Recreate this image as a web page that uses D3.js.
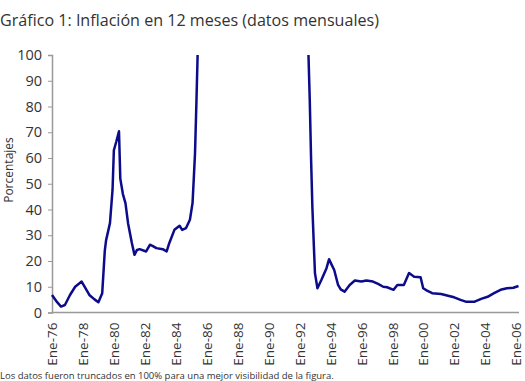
<!DOCTYPE html>
<html><head><meta charset="utf-8">
<script src="https://cdn.jsdelivr.net/npm/d3@7"></script>
<style>body{margin:0;background:#fff;overflow:hidden}svg{display:block}</style>
</head><body>
<svg id="c" width="525" height="381"></svg>
<script>
const title = "Gráfico 1: Inflación en 12 meses (datos mensuales)";
const yLabel = "Porcentajes";
const footnote = "Los datos fueron truncados en 100% para una mejor visibilidad de la figura.";
const yTicks = [0,10,20,30,40,50,60,70,80,90,100];
const xTickYears = [1976,1978,1980,1982,1984,1986,1988,1990,1992,1994,1996,1998,2000,2002,2004,2006];
// months (YYYY-MM) and 12-month inflation (%); null = out of range (above 100)
const months = ["1976-01","1976-05","1976-08","1976-11","1977-03","1977-07","1977-12","1978-06","1978-10","1979-01","1979-04","1979-06","1979-07","1979-10","1979-12","1980-01","1980-03","1980-05","1980-06","1980-08","1980-10","1980-12","1981-03","1981-05","1981-07","1981-09","1982-02","1982-05","1982-07","1982-10","1983-03","1983-06","1983-08","1983-12","1984-04","1984-06","1984-09","1984-12","1985-02","1985-03","1985-04","1985-05","1985-06","1985-07","1992-07","1992-08","1992-09","1992-10","1992-11","1992-12","1993-01","1993-03","1993-06","1993-10","1993-12","1994-02","1994-04","1994-07","1994-09","1994-12","1995-04","1995-08","1996-01","1996-05","1996-10","1997-02","1997-06","1997-09","1998-02","1998-05","1998-10","1999-02","1999-06","1999-11","2000-01","2000-04","2000-08","2001-03","2001-09","2002-01","2002-06","2002-10","2003-05","2003-10","2004-03","2004-08","2005-01","2005-06","2005-11","2006-03"];
const inflation = [6.8,4.0,2.3,2.9,6.8,10.0,12.0,6.8,5.1,4.0,7.5,24.0,28.0,34.7,47.7,63.0,66.5,70.4,52.0,46.0,42.5,34.7,27.0,22.4,24.3,24.6,23.7,26.3,25.9,25.0,24.6,23.7,26.9,32.1,33.7,32.1,32.8,36.0,42.5,51.6,62.0,80.0,100,null,null,100,82.0,60.0,41.0,28.0,15.3,9.4,12.6,17.2,20.7,18.5,16.5,10.7,9.0,8.1,10.7,12.4,12.0,12.4,12.0,11.1,10.0,9.8,8.8,10.7,10.7,15.3,13.9,13.7,9.4,8.5,7.5,7.2,6.4,5.9,4.9,4.2,4.2,5.3,6.1,7.5,8.8,9.4,9.6,10.3];

const parse = d3.timeParse("%Y-%m");
const data = months.map((m,i)=>({date:parse(m), v:inflation[i]}));

const svg = d3.select("#c");
const L = 52, R = 516, T = 55, B = 312.5;
const x = d3.scaleTime().domain([new Date(1976,0,1), new Date(2006,0,1)]).range([L, R]);
const y = d3.scaleLinear().domain([0,100]).range([B, T]);
const font = "'Open Sans', sans-serif";

svg.append("text").attr("x",0).attr("y",26).attr("font-family",font).attr("font-size",16.1)
  .attr("fill","#333").text(title);

// y axis
const ya = svg.append("g").attr("transform",`translate(${L},0)`)
  .call(d3.axisLeft(y).tickValues(yTicks).tickSize(4).tickPadding(6));
ya.select(".domain").attr("stroke","#999").attr("stroke-width",1.5);
ya.selectAll(".tick line").attr("stroke","#999");
ya.selectAll(".tick text").attr("font-family",font).attr("font-size",14.5).attr("fill","#333");

svg.append("text").attr("transform",`translate(13,170) rotate(-90)`).attr("text-anchor","middle")
  .attr("font-family",font).attr("font-size",12).attr("fill","#333").text(yLabel);

// x axis
const xa = svg.append("g").attr("transform",`translate(0,${B})`)
  .call(d3.axisBottom(x).tickValues(xTickYears.map(yy=>new Date(yy,0,1))).tickSize(0).tickPadding(0)
    .tickFormat(d=>"Ene-"+d3.timeFormat("%y")(d)));
xa.select(".domain").attr("stroke","#999").attr("stroke-width",1.5).attr("d",`M${L},0H519`);
xa.selectAll(".tick text").attr("font-family",font).attr("font-size",13.5).attr("fill","#333")
  .attr("text-anchor","end").attr("transform","rotate(-90)").attr("x",-10).attr("y",0).attr("dy","0.35em");

// line
svg.append("path").datum(data)
  .attr("fill","none").attr("stroke","#0c0c8a").attr("stroke-width",2.5).attr("stroke-linejoin","round")
  .attr("d", d3.line().defined(d=>d.v!=null).x(d=>x(d.date)).y(d=>y(d.v)));

svg.append("text").attr("x",0).attr("y",379).attr("font-family",font).attr("font-size",9.5)
  .attr("fill","#333").text(footnote);
</script>
</body></html>
